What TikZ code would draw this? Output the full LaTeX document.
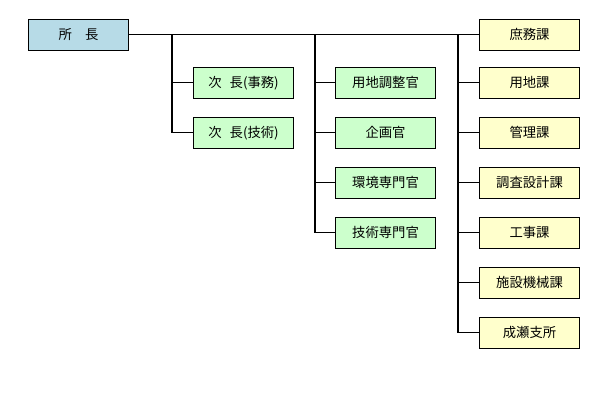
\documentclass[tikz,border=0pt]{standalone}
\usepackage{fontspec}
\setmainfont{Noto Sans CJK JP}
\begin{document}
\begin{tikzpicture}[x=0.75pt,y=-0.75pt,
 box/.style={draw=black,line width=0.8pt,minimum width=75pt,minimum height=23pt,inner sep=0pt,font=\fontsize{10}{12}\selectfont,anchor=north west},
 bl/.style={box,fill=blue!10!cyan!20!white,fill={rgb,255:red,183;green,219;blue,231}},
 gr/.style={box,fill={rgb,255:red,204;green,255;blue,204}},
 ye/.style={box,fill={rgb,255:red,255;green,255;blue,204}},
 ln/.style={line width=0.8pt}]
\useasboundingbox (0,0) rectangle (607,411);
\node[bl] (a) at (28,19) {所\hspace{1em}長};
\node[gr] (b1) at (193,67) {次\hspace{0.6em}長(事務)};
\node[gr] (b2) at (193,117) {次\hspace{0.6em}長(技術)};
\node[gr] (c1) at (335,67) {用地調整官};
\node[gr] (c2) at (335,117) {企画官};
\node[gr] (c3) at (335,167) {環境専門官};
\node[gr] (c4) at (335,217) {技術専門官};
\node[ye] (d1) at (479,19) {庶務課};
\node[ye] (d2) at (479,67) {用地課};
\node[ye] (d3) at (479,117) {管理課};
\node[ye] (d4) at (479,167) {調査設計課};
\node[ye] (d5) at (479,217) {工事課};
\node[ye] (d6) at (479,267) {施設機械課};
\node[ye] (d7) at (479,317) {成瀬支所};
\draw[ln] (a.east) -- (d1.west);
\coordinate (v1) at (172,35);
\coordinate (v2) at (315,35);
\coordinate (v3) at (458,35);
\draw[ln] (v1) |- (b1.west); \draw[ln] (v1) |- (b2.west);
\foreach \n in {c1,c2,c3,c4} \draw[ln] (v2) |- (\n.west);
\foreach \n in {d2,d3,d4,d5,d6,d7} \draw[ln] (v3) |- (\n.west);
\end{tikzpicture}
\end{document}
